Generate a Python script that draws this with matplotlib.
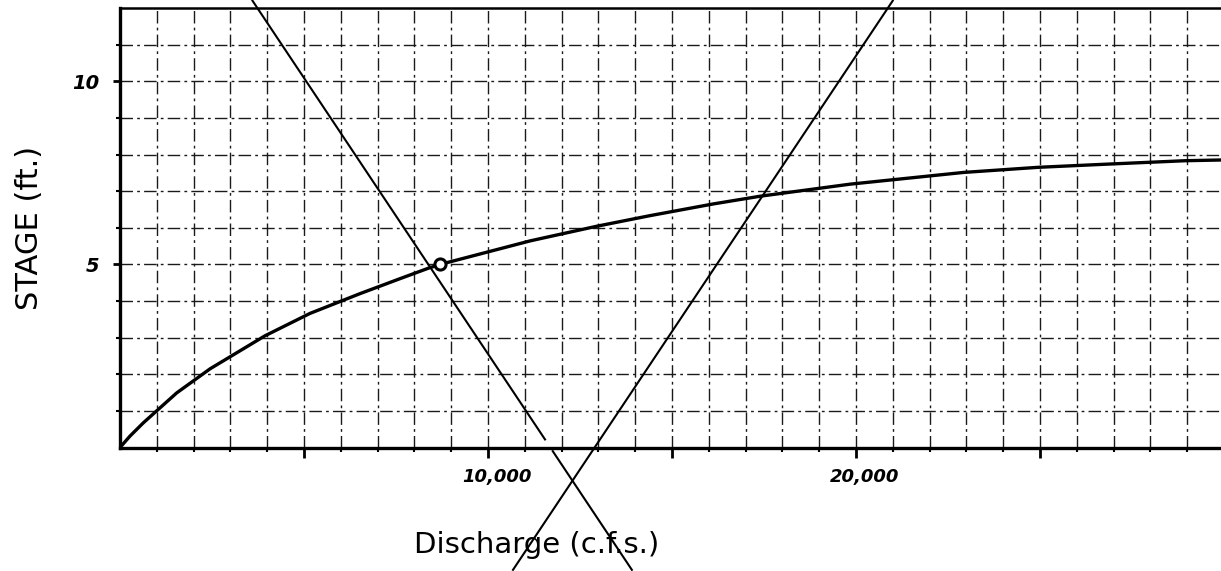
import matplotlib.pyplot as plt
import matplotlib.transforms as mtransforms
import numpy as np

# rating curve, discharge in cfs, stage in ft
discharge = [0, 270, 630, 1540, 2450, 3940, 5160, 6520, 7610, 8420, 8780,
             11140, 11770, 12950, 14400, 16120, 17390, 19840, 22920, 24950,
             26900, 28940, 29920]
stage = [0.0, 0.31, 0.67, 1.49, 2.15, 3.05, 3.66, 4.20, 4.61, 4.91, 5.02,
         5.64, 5.78, 6.04, 6.33, 6.65, 6.86, 7.19, 7.51, 7.65, 7.74, 7.83, 7.85]

# operating point
point_q = [8700]
point_h = [5.0]

# the two straight lines (end points)
fall_q = [3600, 11550]
fall_h = [12.2, 0.22]
fall_tail_q = [11760, 13910]
fall_tail_h = [-0.10, -3.34]
rise_q = [10680, 21000]
rise_h = [-3.34, 12.2]

x_ticks = [5000, 10000, 15000, 20000, 25000]
x_labels = ["", "10,000", "", "20,000", ""]
y_ticks = [5, 10]
y_labels = ["5", "10"]

fig = plt.figure(figsize=(12.21, 5.71), dpi=100)
ax = fig.add_axes([120 / 1221, (571 - 447.5) / 571, 1101 / 1221, 439.5 / 571])

ax.set_xlim(0, 29920)
ax.set_ylim(0, 12)

# graph paper grid
ax.set_xticks(np.arange(1000, 30000, 1000), minor=True)
ax.set_yticks(np.arange(1, 12, 1), minor=True)
ax.grid(which="both", color="#1a1a1a", linewidth=1.0,
        linestyle=(0, (9, 3, 2, 3)))
ax.set_axisbelow(True)

ax.plot(discharge, stage, color="black", linewidth=2.4,
        solid_capstyle="round", solid_joinstyle="round")
ax.plot(fall_q, fall_h, color="black", linewidth=1.5, clip_on=False)
ax.plot(fall_tail_q, fall_tail_h, color="black", linewidth=1.5, clip_on=False)
ax.plot(rise_q, rise_h, color="black", linewidth=1.5, clip_on=False)
ax.plot(point_q, point_h, "o", markersize=8, markerfacecolor="white",
        markeredgecolor="black", markeredgewidth=2.2, zorder=5)

for side in ["left", "bottom"]:
    ax.spines[side].set_linewidth(2.4)
ax.spines["top"].set_linewidth(1.8)
ax.spines["right"].set_visible(False)

ax.set_xticks(x_ticks)
ax.set_xticklabels(x_labels, fontsize=13, fontstyle="italic", fontweight="bold")
ax.set_yticks(y_ticks)
ax.set_yticklabels(y_labels, fontsize=14, fontstyle="italic", fontweight="bold")
ax.tick_params(axis="x", which="major", direction="out", length=7, width=2, pad=8)
ax.tick_params(axis="y", which="major", direction="out", length=5, width=2, pad=10)
ax.tick_params(which="minor", length=3, width=1.5, direction="out")

shift = mtransforms.ScaledTranslation(9 / 100, 0, fig.dpi_scale_trans)
for lab in ax.get_xticklabels():
    lab.set_transform(lab.get_transform() + shift)

fig.text(537 / 1221, 1 - 545 / 571, "Discharge (c.f.s.)", fontsize=21,
         ha="center", va="center")
fig.text(30 / 1221, 1 - 228 / 571, "STAGE (ft.)", fontsize=22,
         rotation=90, ha="center", va="center")

fig.savefig("out.png", dpi=100)
